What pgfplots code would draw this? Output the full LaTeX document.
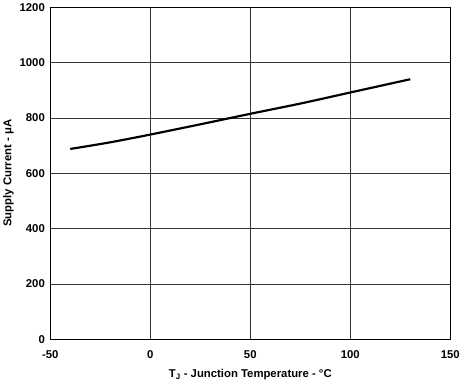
\documentclass[border=0pt]{standalone}
\usepackage{fontspec}
\setmainfont{Liberation Sans}
\usepackage{pgfplots}
\pgfplotsset{compat=1.18}
\begin{document}
\begin{tikzpicture}
\begin{axis}[
  scale only axis,
  width=406pt, height=337pt,
  xmin=-50, xmax=150, ymin=0, ymax=1200,
  xtick={-50,0,50,100,150},
  ytick={0,200,400,600,800,1000,1200},
  grid=major,
  major grid style={line width=0.8pt, black!80},
  axis line style={line width=1pt},
  tick style={draw=none},
  /pgf/number format/assume math mode=true,
  ticklabel style={font=\fontsize{11.5}{13}\selectfont\bfseries},
  xticklabel style={yshift=-8pt},
  yticklabel style={xshift=-2pt},
  label style={font=\fontsize{11.5}{13}\selectfont\bfseries},
  xlabel={T\textsubscript{J} - Junction Temperature - °C},
  ylabel={Supply Current - μA},
  xlabel style={yshift=-4pt},
  ylabel style={yshift=-1pt},
  /pgf/number format/set thousands separator={},
]
\addplot[black, line width=2.2pt, smooth] coordinates {
(-40,688) (-20,712) (0,740) (25,777) (50,815) (75,852) (100,892) (130,940)
};
\end{axis}
\end{tikzpicture}
\end{document}
